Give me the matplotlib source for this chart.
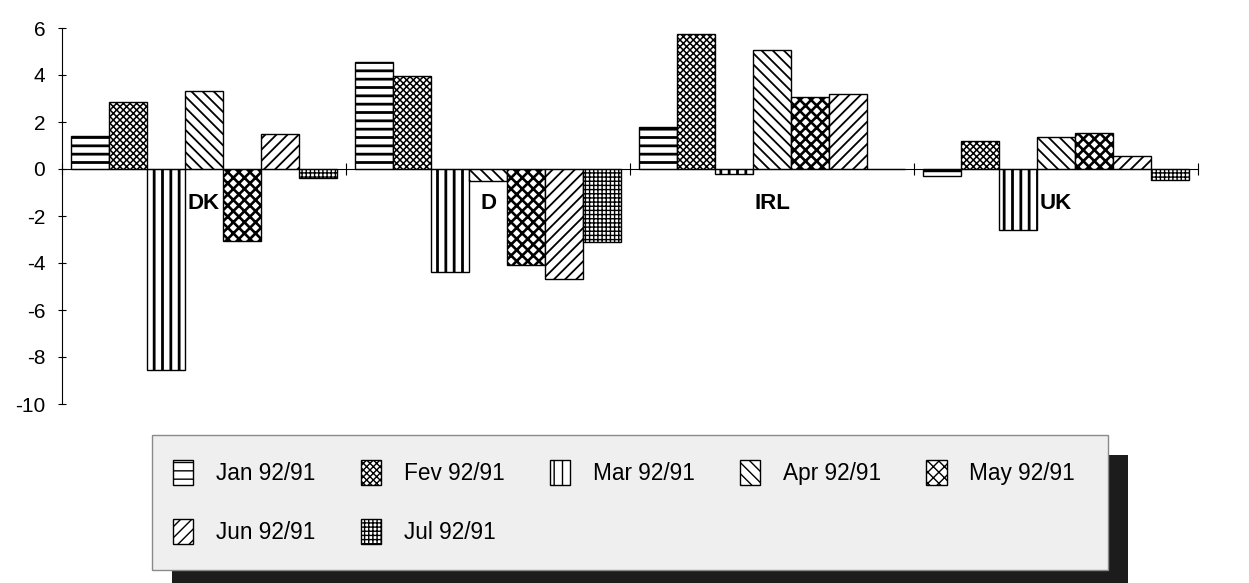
import matplotlib
matplotlib.use('Agg')
import matplotlib.pyplot as plt
from matplotlib.patches import Rectangle
import numpy as np

# data
countries = ["DK", "D", "IRL", "UK"]
months = ["Jan 92/91", "Fev 92/91", "Mar 92/91", "Apr 92/91",
          "May 92/91", "Jun 92/91", "Jul 92/91"]
jan = [1.4, 4.55, 1.8, -0.3]
fev = [2.85, 3.95, 5.75, 1.2]
mar = [-8.55, -4.4, -0.2, -2.6]
apr = [3.3, -0.5, 5.05, 1.35]
may = [-3.05, -4.1, 3.05, 1.55]
jun = [1.5, -4.7, 3.2, 0.55]
jul = [-0.4, -3.1, 0.0, -0.45]
series = [jan, fev, mar, apr, may, jun, jul]

hatches = ["--", "xxxxx", "||", "\\\\\\", "xxx", "///", "++++"]
hatch_lw = [2.0, 1.1, 2.0, 1.3, 1.9, 1.3, 1.0]

plt.rcParams['font.family'] = ['Liberation Sans', 'DejaVu Sans']
plt.rcParams['axes.unicode_minus'] = False

W, H = 1249, 583
fig = plt.figure(figsize=(W / 100, H / 100), dpi=100)
ax = fig.add_axes([62 / W, 1 - 404 / H, (1198 - 62) / W, (404 - 28) / H])

x = np.arange(len(countries))
width = 0.935 / len(series)
handles = []
for k, (vals, name, h, lw) in enumerate(zip(series, months, hatches, hatch_lw)):
    with plt.rc_context({'hatch.linewidth': lw}):
        b = ax.bar(x + (k - 3) * width, vals, width, facecolor="white",
                   edgecolor="black", hatch=h, linewidth=1.0, label=name, zorder=2)
    handles.append(b)

ax.set_xlim(-0.5, 3.5)
ax.set_ylim(-10, 6)
ax.set_yticks(range(-10, 7, 2))
ax.tick_params(axis='y', direction='inout', length=6, labelsize=15, pad=9)
ax.spines['top'].set_visible(False)
ax.spines['right'].set_visible(False)
ax.spines['bottom'].set_position(('data', 0))
ax.spines['bottom'].set_zorder(3)
ax.set_xticks(np.arange(-0.5, 3.6, 1))
ax.set_xticklabels([])
ax.tick_params(axis='x', direction='inout', length=8)

for i, c in enumerate(countries):
    ax.text(i, -1.45, c, ha='center', va='center', fontsize=16,
            fontweight='bold', zorder=4)

# legend box with heavy drop shadow
fig.patches.append(Rectangle((172 / W, 0), 956 / W, (583 - 455) / H,
                             transform=fig.transFigure, facecolor="#1c1c1c",
                             edgecolor="none", zorder=0))
fig.patches.append(Rectangle((152 / W, 1 - 570 / H), 956 / W, 135 / H,
                             transform=fig.transFigure, facecolor="#efefef",
                             edgecolor="#8a8a8a", linewidth=1, zorder=1))
# legend fills column by column, so reorder to read row by row
order = [0, 5, 1, 6, 2, 3, 4]
leg = fig.legend(handles=[handles[i] for i in order], loc='center',
                 bbox_to_anchor=(624 / W, 1 - 502 / H),
                 ncol=5, frameon=False, fontsize=16.3, handlelength=0.9,
                 handleheight=1.3, handletextpad=1.0, columnspacing=2.0,
                 labelspacing=1.5)
leg.set_zorder(2)

fig.savefig("out.png", dpi=100)
